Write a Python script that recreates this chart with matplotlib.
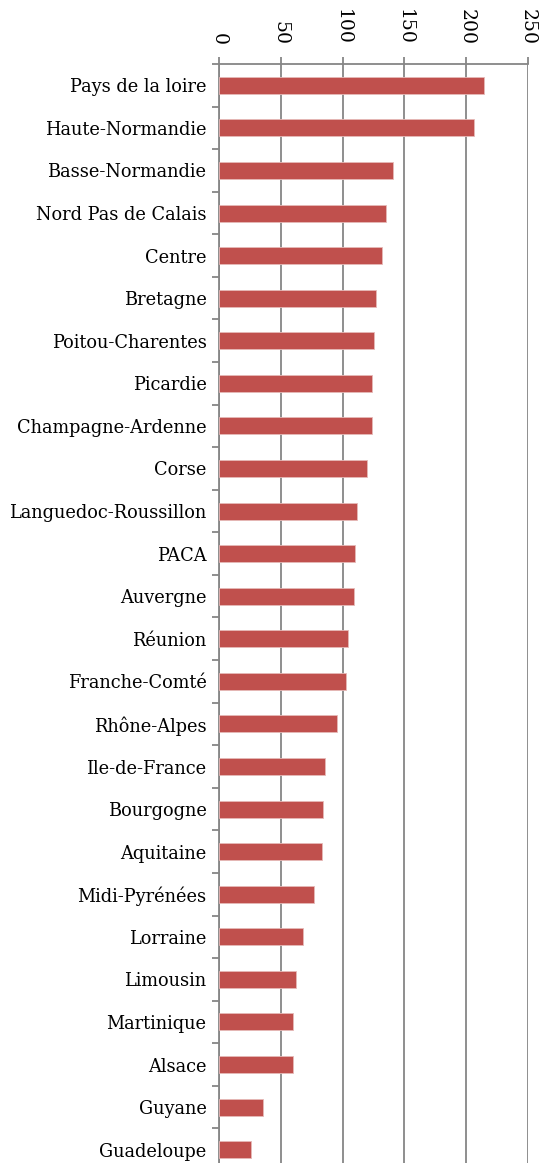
import matplotlib
matplotlib.use("Agg")
import matplotlib.pyplot as plt

regions = ["Pays de la loire", "Haute-Normandie", "Basse-Normandie", "Nord Pas de Calais",
           "Centre", "Bretagne", "Poitou-Charentes", "Picardie", "Champagne-Ardenne",
           "Corse", "Languedoc-Roussillon", "PACA", "Auvergne", "Réunion",
           "Franche-Comté", "Rhône-Alpes", "Ile-de-France", "Bourgogne", "Aquitaine",
           "Midi-Pyrénées", "Lorraine", "Limousin", "Martinique", "Alsace",
           "Guyane", "Guadeloupe"]
values = [214, 206, 141, 135, 132, 127, 125, 124, 123.5, 120, 112, 110, 109, 104,
          103, 95.5, 85.5, 84, 83.5, 76.5, 68, 62, 59.5, 59.5, 35.5, 26]
xticks = [0, 50, 100, 150, 200, 250]

W, H = 548, 1163
fig = plt.figure(figsize=(W/100, H/100), dpi=100)
left, right, top, bottom = 219, 528, 64, 1171
ax = fig.add_axes([left/W, (H-bottom)/H, (right-left)/W, (bottom-top)/H])

n = len(regions)
pos = list(range(n))
ax.barh(pos, values, height=0.4, color="#C0504D", edgecolor="#E6B9B8", linewidth=0.6, zorder=3)
ax.set_ylim(n-0.5, -0.5)
ax.set_xlim(0, 250)

grid_c = "#868686"
ax.set_xticks(xticks)
ax.xaxis.tick_top()
ax.set_xticklabels([str(t) for t in xticks], rotation=-90,
                   fontfamily="DejaVu Serif", fontsize=13.5, color="black")
ax.tick_params(axis="x", direction="out", length=5, width=1.3, color=grid_c, pad=9)
ax.xaxis.grid(True, color=grid_c, linewidth=1.3, zorder=0)

ax.set_yticks(pos)
ax.set_yticklabels(regions, fontfamily="DejaVu Serif", fontsize=12.8)
ax.set_yticks([i + 0.5 for i in range(-1, n)], minor=True)
ax.tick_params(axis="y", which="major", length=0, pad=9)
ax.tick_params(axis="y", which="minor", direction="out", length=5, width=1.3, color=grid_c)

for s in ["right", "bottom"]:
    ax.spines[s].set_visible(False)
for s in ["left", "top"]:
    ax.spines[s].set_color(grid_c)
    ax.spines[s].set_linewidth(1.3)

fig.savefig("out.png", dpi=100)
